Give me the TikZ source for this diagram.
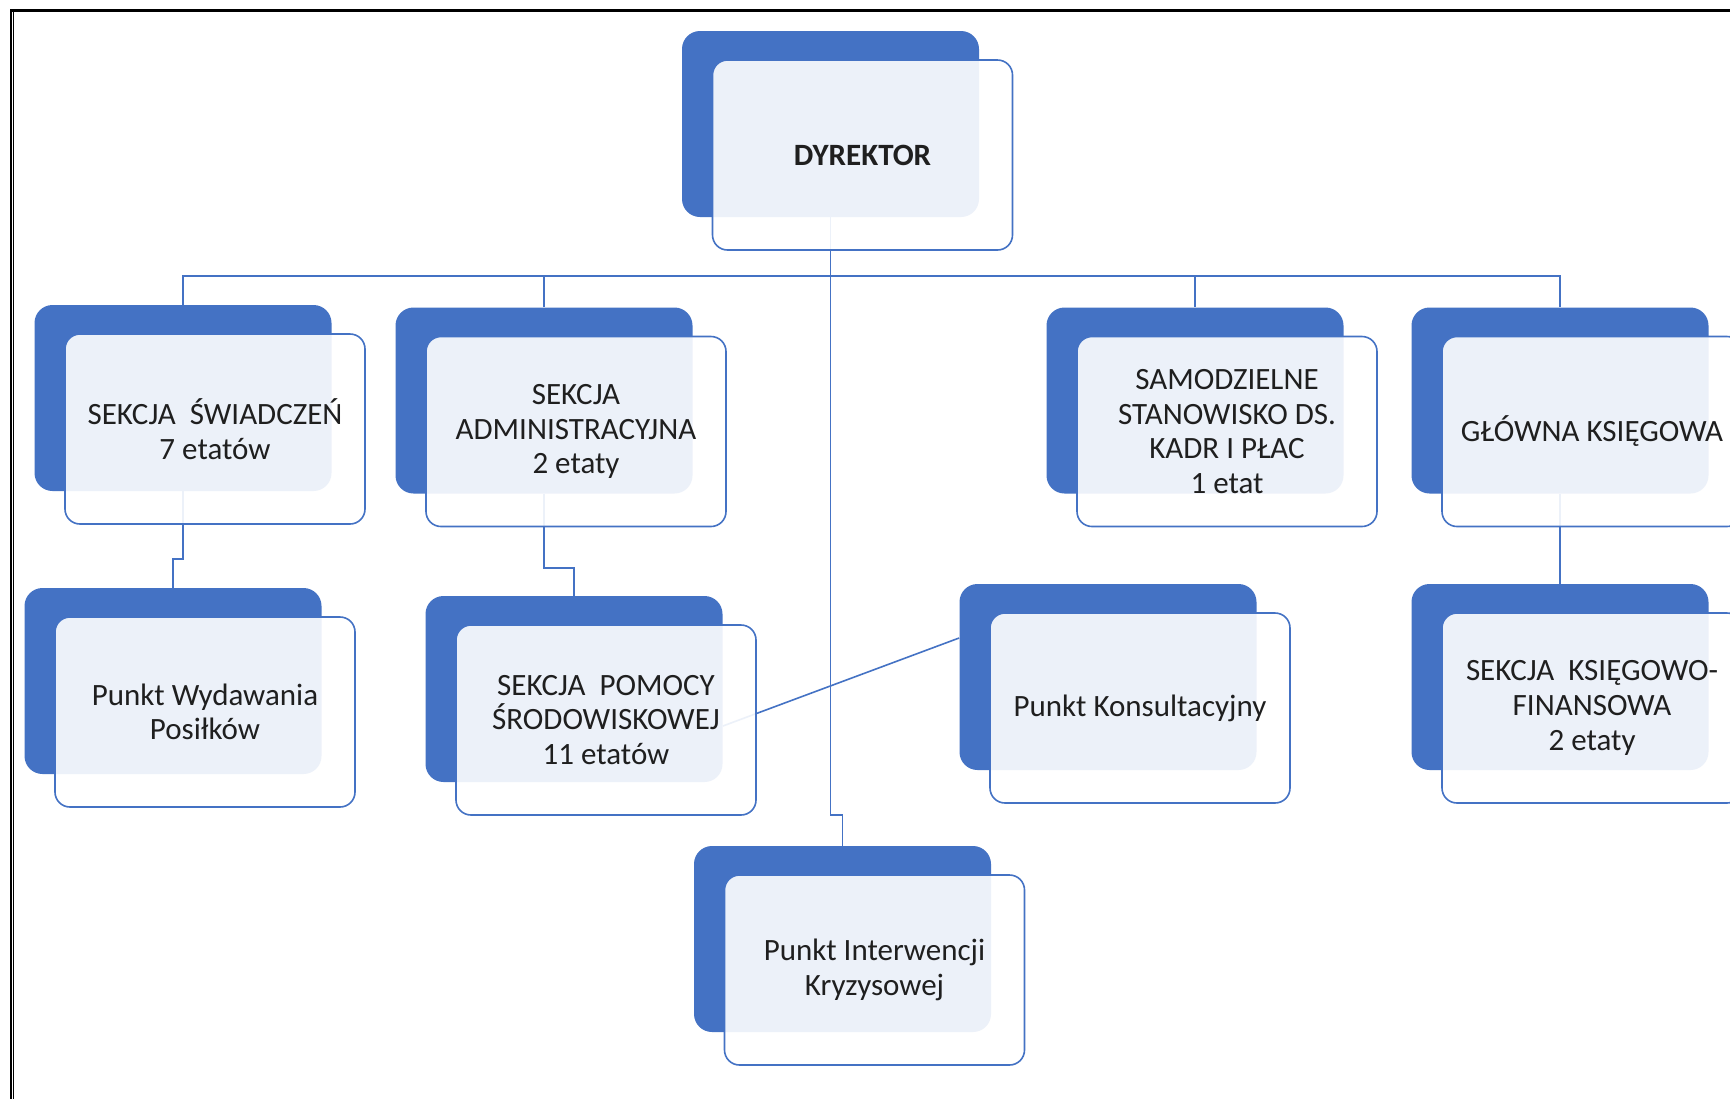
\documentclass[tikz,border=0pt]{standalone}
\usepackage{fontspec}
\setmainfont{Carlito}
\usetikzlibrary{calc}
\definecolor{ablue}{HTML}{4472C4}
\begin{document}
\begin{tikzpicture}[x=0.5pt,y=-0.5pt,
  backbox/.style={rectangle, rounded corners=9pt, fill=ablue, minimum width=148.5pt, minimum height=93pt, inner sep=0pt},
  frontbox/.style={rectangle, rounded corners=7.5pt, draw=ablue, line width=0.8pt, fill=white, fill opacity=0.9, text opacity=1, minimum width=150pt, minimum height=95pt, inner sep=0pt, align=center, text=black!88, font=\fontsize{15.5}{17.3}\selectfont},
  conn/.style={draw=ablue, line width=0.8pt}
]
\useasboundingbox (0,0) rectangle (1730,1099);
\clip (0,0) rectangle (1730,1099);
\fill[white] (0,0) rectangle (1730,1099);
% frame
\draw[line width=1.5pt] (10,10.5) -- (1730,10.5);
\draw[line width=1pt] (11,9) -- (11,1099);
\draw[line width=0.5pt] (13.7,12) -- (13.7,1099);

% back boxes
\node[backbox] (dyrB) at (830.5,124) {};
\node[backbox] (swiB) at (183,398) {};
\node[backbox] (admB) at (544,400.5) {};
\node[backbox] (samB) at (1195,400.5) {};
\node[backbox] (gloB) at (1560,400.5) {};
\node[backbox] (wydB) at (173,681) {};
\node[backbox] (pomB) at (574,689) {};
\node[backbox] (konB) at (1108,677) {};
\node[backbox] (ksiB) at (1560,677) {};
\node[backbox] (intB) at (842.5,939) {};

% connectors
\coordinate (bus) at (830.5,276);
\draw[conn] (dyrB.south) -- (bus);
\draw[conn] (swiB.north) |- (bus);
\draw[conn] (admB.north) |- (bus);
\draw[conn] (samB.north) |- (bus);
\draw[conn] (gloB.north) |- (bus);
\draw[conn] (bus) -- (bus |- 0,815) -| (intB.north);
\draw[conn] (swiB.south) -- (swiB.south |- 0,559) -| (wydB.north);
\draw[conn] (admB.south) -- (admB.south |- 0,568) -| (pomB.north);
\draw[conn] (gloB.south) -- (ksiB.north);
\draw[conn] ($(pomB.east)+(0,37)$) -- ($(konB.west)+(0,-39)$);

% front boxes
\node[frontbox] (dyr) at ($(dyrB)+(32,31)$) {\textbf{DYREKTOR}};
\node[frontbox] (swi) at ($(swiB)+(32,31)$) {SEKCJA\ \ ŚWIADCZEŃ\\7 etatów};
\node[frontbox] (adm) at ($(admB)+(32,31)$) {SEKCJA\\ADMINISTRACYJNA\\2 etaty};
\node[frontbox] (sam) at ($(samB)+(32,31)$) {SAMODZIELNE\\STANOWISKO DS.\\KADR I PŁAC\\1 etat};
\node[frontbox] (glo) at ($(gloB)+(32,31)$) {GŁÓWNA KSIĘGOWA};
\node[frontbox] (wyd) at ($(wydB)+(32,31)$) {Punkt Wydawania\\Posiłków};
\node[frontbox] (pom) at ($(pomB)+(32,31)$) {SEKCJA\ \ POMOCY\\ŚRODOWISKOWEJ\\11 etatów};
\node[frontbox] (kon) at ($(konB)+(32,31)$) {Punkt Konsultacyjny};
\node[frontbox] (ksi) at ($(ksiB)+(32,31)$) {SEKCJA\ \ KSIĘGOWO-\\FINANSOWA\\2 etaty};
\node[frontbox] (int) at ($(intB)+(32,31)$) {Punkt Interwencji\\Kryzysowej};
\end{tikzpicture}
\end{document}
